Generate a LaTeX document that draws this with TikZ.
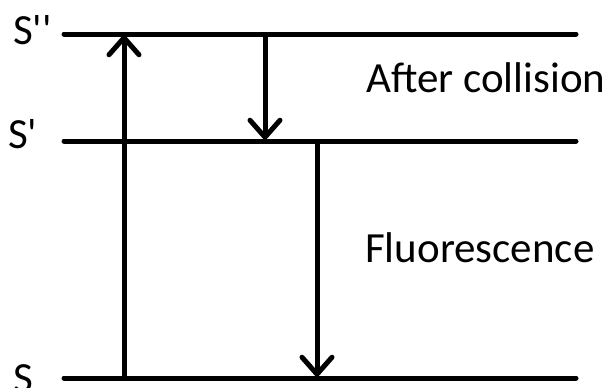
\documentclass[tikz,border=0pt]{standalone}
\usepackage{fontspec}
\setmainfont{Carlito}[Ligatures=TeXOff]
\usetikzlibrary{arrows.meta}
\begin{document}
\begin{tikzpicture}[x=1pt,y=-1pt,
  level/.style={line width=5pt,line cap=round},
  trans/.style={line width=5pt,-{Straight Barb[length=17pt,width=30pt,line cap=round]}},
  lbl/.style={font=\fontsize{43}{48}\selectfont,inner sep=0pt,anchor=base west}]
\useasboundingbox (0,0) rectangle (614,388);
\coordinate (a1) at (64,34); \coordinate (a2) at (576,34);
\coordinate (b1) at (64,141); \coordinate (b2) at (576,141);
\coordinate (c1) at (64,378); \coordinate (c2) at (576,378);
\draw[level] (a1) -- (a2);
\draw[level] (b1) -- (b2);
\draw[level] (c1) -- (c2);
\coordinate (u0) at (124,378); \coordinate (u1) at (124,34);
\coordinate (d0) at (265,34); \coordinate (d1) at (265,141);
\coordinate (e0) at (317,141); \coordinate (e1) at (317,378);
\draw[trans] (u0) -- (u1);
\draw[trans] (d0) -- (d1);
\draw[trans] (e0) -- (e1);
\node[lbl] (l1) at (13,45) {S''};
\node[lbl] (l2) at (8,148) {S'};
\node[lbl] (l3) at (13,392) {S};
\node[lbl] (t1) at (366,92) {After collision};
\node[lbl] (t2) at (365,262) {Fluorescence};
\end{tikzpicture}
\end{document}
